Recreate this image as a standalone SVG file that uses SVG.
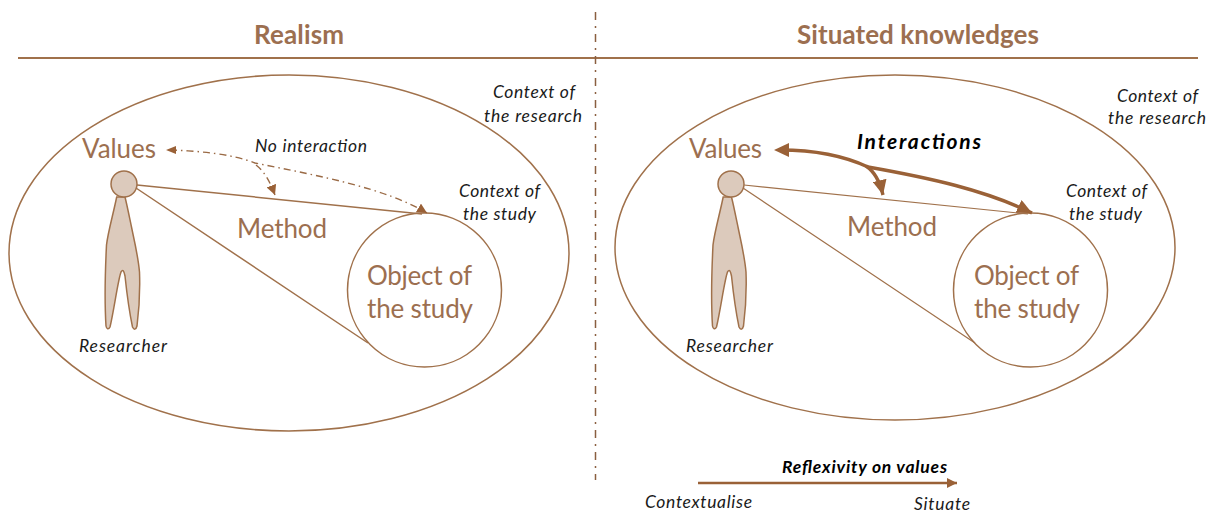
<svg xmlns="http://www.w3.org/2000/svg" width="1214" height="514" viewBox="0 0 1214 514">
<style>
text{font-family:Lato,"Open Sans","Liberation Sans",sans-serif}
.b{fill:#9c6f50}
.h{font-size:26px;font-weight:700}
.l{font-size:26px}
.i{font-size:17.5px;font-style:italic;fill:#1a1a1a}
.ib{font-weight:700;fill:#000}
.s{fill:none;stroke:#a0714b;stroke-width:1.5}
.n{fill:none;stroke:#a0714b;stroke-width:1.2}
.p{fill:#dccabc;stroke:#a0714b;stroke-width:1.5}
.d{fill:none;stroke:#9a6a45;stroke-width:1.4;stroke-dasharray:7 4 1.5 4}
.t{fill:none;stroke:#9a6137;stroke-width:3.4}
</style>
<defs>
<marker id="a" markerUnits="userSpaceOnUse" markerWidth="12" markerHeight="10" refX="10" refY="5" orient="auto"><path d="M0 0L10 5L0 10Z" fill="#9a6137"/></marker>
<marker id="c" markerUnits="userSpaceOnUse" markerWidth="17" markerHeight="14" refX="15" refY="7" orient="auto"><path d="M0 0L15 7L0 14Z" fill="#9a6137"/></marker>
<path id="body" d="M116.700 197C113 215 108 232 106.500 245C105 275 105 310 106 326C106.500 329 108.500 330 110 327C114 310 118 280 121 272C123 269 124 271 125 276C127 295 130 315 132.500 327C134 330 136 330 137 326C139 310 140 285 139.500 272C138 255 133 235 131.700 228C129 215 127 205 125 197Z"/>
</defs>
<g id="frame">
<line x1="18" y1="58" x2="1198" y2="58" stroke="#a0714b" stroke-width="2"/>
<line x1="595.500" y1="12" x2="595.500" y2="480" stroke="#8a5f40" stroke-width="1.500" stroke-dasharray="8 6 2 6"/>
<text class="h b" x="254" y="44" textLength="90">Realism</text>
<text class="h b" x="797" y="44" textLength="242">Situated knowledges</text>
</g>
<g id="realism-context">
<ellipse class="s" cx="289" cy="253" rx="280" ry="178"/>
<text class="i" x="493" y="98" textLength="82">Context of</text>
<text class="i" x="484" y="122" textLength="98">the research</text>
</g>
<g id="realism-object">
<circle class="s" cx="424.500" cy="290" r="77"/>
<text class="l b" x="367" y="285" textLength="105">Object of</text>
<text class="l b" x="367" y="318" textLength="106">the study</text>
<text class="i" x="459" y="197" textLength="81">Context of</text>
<text class="i" x="463" y="220" textLength="73">the study</text>
</g>
<g id="realism-researcher">
<use href="#body" class="p"/>
<circle class="p" cx="124" cy="184" r="13"/>
<text class="i" x="79" y="352" textLength="88">Researcher</text>
</g>
<g id="realism-labels">
<text class="l b" x="82" y="158" textLength="74">Values</text>
<text class="l b" x="237" y="238" textLength="90">Method</text>
<text class="i" x="255" y="152" textLength="112">No interaction</text>
</g>
<g id="situated-context">
<ellipse class="s" cx="895" cy="247.500" rx="280" ry="172.500"/>
<text class="i" x="1117" y="102" textLength="81">Context of</text>
<text class="i" x="1108" y="124" textLength="98">the research</text>
</g>
<g id="situated-object">
<circle class="s" cx="1030.500" cy="290" r="77"/>
<text class="l b" x="974" y="285" textLength="105">Object of</text>
<text class="l b" x="974" y="318" textLength="106">the study</text>
<text class="i" x="1066" y="197" textLength="81">Context of</text>
<text class="i" x="1069" y="220" textLength="73">the study</text>
</g>
<g id="situated-researcher">
<use href="#body" class="p" x="606.500"/>
<circle class="p" cx="731" cy="184" r="13"/>
<text class="i" x="686" y="352" textLength="87">Researcher</text>
</g>
<g id="situated-labels">
<text class="l b" x="689" y="158" textLength="73">Values</text>
<text class="l b" x="847" y="236" textLength="90">Method</text>
<text class="i ib" x="857" y="149" textLength="124" style="font-size:21px">Interactions</text>
</g>
<g id="connectors">
<path class="s" stroke-width="1.800" d="M137 185L422 214M136 188L368 343"/>
<path class="d" d="M170 150C200 151 232 154 255 163C320 176 385 188 427 213" marker-end="url(#a)"/>
<path d="M166 150L176 146L176 154Z" fill="#9a6137"/>
<path class="d" d="M256 165C265 172 270 182 275 195" marker-end="url(#a)"/>
<path class="n" d="M744 185L1028 214M743 188L975 343"/>
<path class="t" d="M780 150C805 150 838 153 868 167C930 178 985 190 1032 213" marker-end="url(#c)"/>
<path d="M774 150L789 143L789 157Z" fill="#9a6137"/>
<path class="t" d="M866 166C875 172 880 182 883 195" marker-end="url(#c)"/>
</g>
<g id="reflexivity">
<path class="t" style="stroke-width:2.500" d="M698 483L957 483" marker-end="url(#a)"/>
<text class="i ib" x="782" y="473" textLength="165">Reflexivity on values</text>
<text class="i" x="645" y="508" textLength="107">Contextualise</text>
<text class="i" x="914" y="510" textLength="56">Situate</text>
</g>
</svg>
